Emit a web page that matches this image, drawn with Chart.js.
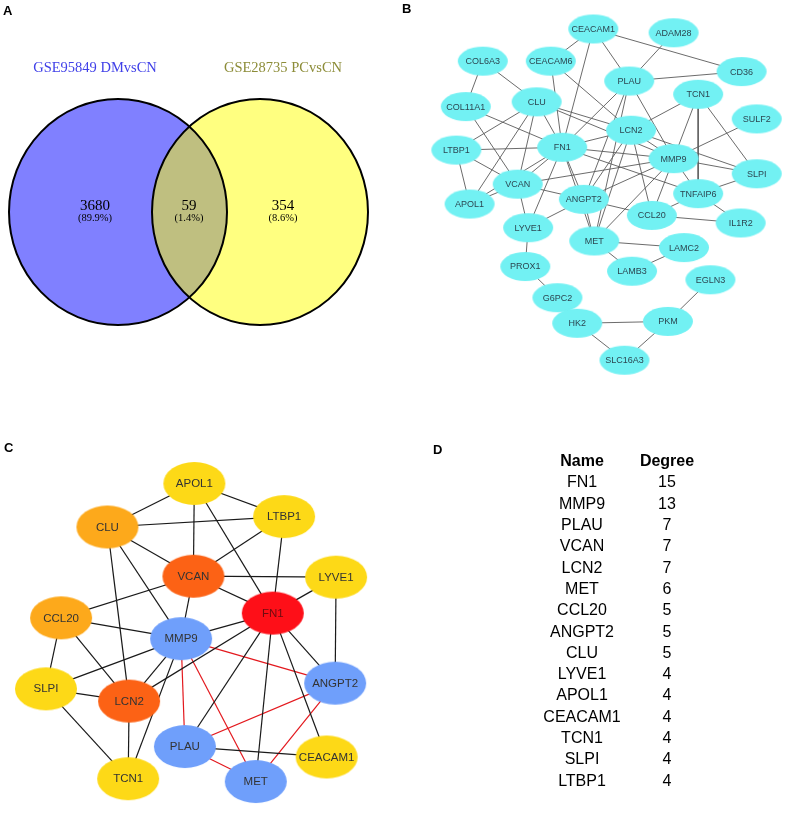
<!DOCTYPE html>
<html>
<head>
<meta charset="utf-8">
<script src="https://cdn.jsdelivr.net/npm/chart.js@4.4.1/dist/chart.umd.min.js"></script>
<style>
  body { margin: 0; background: #fff; width: 797px; height: 820px; position: relative; overflow: hidden; }
  canvas { position: absolute; }
</style>
</head>
<body>
<canvas id="venn" width="400" height="410" style="left:0;top:0"></canvas>
<canvas id="ppiFull" width="397" height="410" style="left:400px;top:0"></canvas>
<canvas id="ppiHub" width="400" height="410" style="left:0;top:410px"></canvas>
<canvas id="degreeTable" width="397" height="410" style="left:400px;top:410px"></canvas>
<script>
// ---------- data ----------
const vennSets = ["GSE95849 DMvsCN", "GSE28735 PCvsCN"];
const vennCounts = [3680, 59, 354]; // left only, shared, right only

const fullGenes = ["CEACAM1", "ADAM28", "COL6A3", "CEACAM6", "CD36", "PLAU", "TCN1", "CLU",
  "COL11A1", "SULF2", "LCN2", "LTBP1", "FN1", "MMP9", "SLPI", "VCAN", "TNFAIP6", "ANGPT2",
  "APOL1", "CCL20", "IL1R2", "LYVE1", "MET", "LAMC2", "LAMB3", "PROX1", "EGLN3", "G6PC2",
  "HK2", "PKM", "SLC16A3"];
const fullEdges = [
  ["CEACAM1", "CEACAM6"], ["CEACAM1", "FN1"], ["CEACAM1", "PLAU"], ["CEACAM1", "CD36"],
  ["ADAM28", "PLAU"], ["PLAU", "CD36"], ["COL6A3", "COL11A1"], ["COL6A3", "CLU"],
  ["CEACAM6", "FN1"], ["CEACAM6", "LCN2"], ["PLAU", "FN1"], ["PLAU", "ANGPT2"],
  ["PLAU", "MET"], ["PLAU", "MMP9"], ["TCN1", "LCN2"], ["TCN1", "MMP9"], ["TCN1", "TNFAIP6"],
  ["TCN1", "SLPI"], ["SULF2", "MMP9"], ["CLU", "FN1"], ["CLU", "LCN2"], ["CLU", "MMP9"],
  ["CLU", "LTBP1"], ["CLU", "APOL1"], ["CLU", "VCAN"], ["COL11A1", "FN1"], ["COL11A1", "VCAN"],
  ["LTBP1", "FN1"], ["LTBP1", "VCAN"], ["LTBP1", "APOL1"], ["FN1", "LCN2"], ["FN1", "MMP9"],
  ["FN1", "TNFAIP6"], ["FN1", "VCAN"], ["FN1", "APOL1"], ["FN1", "ANGPT2"], ["FN1", "LYVE1"],
  ["FN1", "MET"], ["LCN2", "MMP9"], ["LCN2", "SLPI"], ["LCN2", "CCL20"], ["LCN2", "MET"],
  ["LCN2", "ANGPT2"], ["MMP9", "SLPI"], ["MMP9", "TNFAIP6"], ["MMP9", "VCAN"],
  ["MMP9", "ANGPT2"], ["MMP9", "CCL20"], ["MMP9", "MET"], ["SLPI", "TNFAIP6"],
  ["TNFAIP6", "CCL20"], ["TNFAIP6", "IL1R2"], ["CCL20", "IL1R2"], ["ANGPT2", "CCL20"],
  ["ANGPT2", "MET"], ["ANGPT2", "LYVE1"], ["VCAN", "APOL1"], ["VCAN", "LYVE1"],
  ["VCAN", "ANGPT2"], ["LYVE1", "PROX1"], ["MET", "LAMC2"], ["MET", "LAMB3"],
  ["LAMB3", "LAMC2"], ["PROX1", "G6PC2"], ["G6PC2", "HK2"], ["HK2", "PKM"],
  ["HK2", "SLC16A3"], ["PKM", "SLC16A3"], ["PKM", "EGLN3"]
];

const hubGenes = ["APOL1", "LTBP1", "CLU", "VCAN", "LYVE1", "FN1", "CCL20", "MMP9", "SLPI",
  "ANGPT2", "LCN2", "PLAU", "CEACAM1", "TCN1", "MET"];
const hubGroups = ["low", "low", "mid", "high", "low", "top", "mid", "module", "low",
  "module", "high", "module", "low", "low", "module"];
const hubEdges = [
  ["APOL1", "CLU"], ["APOL1", "LTBP1"], ["APOL1", "VCAN"], ["APOL1", "FN1"], ["CLU", "LTBP1"],
  ["CLU", "VCAN"], ["CLU", "MMP9"], ["CLU", "LCN2"], ["LTBP1", "VCAN"], ["LTBP1", "FN1"],
  ["VCAN", "LYVE1"], ["VCAN", "FN1"], ["VCAN", "CCL20"], ["VCAN", "MMP9"], ["LYVE1", "FN1"],
  ["LYVE1", "ANGPT2"], ["FN1", "MMP9"], ["FN1", "LCN2"], ["FN1", "ANGPT2"], ["FN1", "PLAU"],
  ["FN1", "MET"], ["FN1", "CEACAM1"], ["CCL20", "MMP9"], ["CCL20", "SLPI"], ["CCL20", "LCN2"],
  ["MMP9", "SLPI"], ["MMP9", "LCN2"], ["MMP9", "TCN1"], ["SLPI", "LCN2"], ["SLPI", "TCN1"],
  ["LCN2", "TCN1"], ["PLAU", "CEACAM1"]
];
const hubModuleEdges = [
  ["MMP9", "ANGPT2"], ["MMP9", "PLAU"], ["MMP9", "MET"], ["ANGPT2", "PLAU"],
  ["ANGPT2", "MET"], ["PLAU", "MET"]
];

const tableHeader = ["Name", "Degree"];
const tableNames = ["FN1", "MMP9", "PLAU", "VCAN", "LCN2", "MET", "CCL20", "ANGPT2", "CLU",
  "LYVE1", "APOL1", "CEACAM1", "TCN1", "SLPI", "LTBP1"];
const tableDegrees = [15, 13, 7, 7, 7, 6, 5, 5, 5, 4, 4, 4, 4, 4, 4];

// ---------- layout (page pixel units) ----------
const fullX = [593, 678, 476, 548, 750, 631, 704, 533, 458, 766, 633, 448, 560, 678, 766, 513,
  704, 583, 462, 655, 749, 524, 594, 689, 634, 521, 717, 555, 576, 672, 626];
const fullY = [19, 23, 53, 53, 64, 74, 88, 96, 101, 114, 126, 147, 144, 156, 172, 183, 193, 199,
  204, 216, 224, 229, 243, 250, 275, 270, 284, 303, 330, 328, 369];
const hubX = [194, 289, 102, 193, 344, 277, 53, 180, 37, 343, 125, 184, 334, 124, 259];
const hubY = [476, 511, 522, 574, 575, 613, 618, 640, 693, 687, 706, 754, 765, 788, 791];
const vennShapes = [
  { cx: 118, cy: 212, rx: 109, ry: 113, fill: "#8080ff" },
  { cx: 260, cy: 212, rx: 108, ry: 113, fill: "#ffff80" }
];
const vennOverlapFill = "#bfbf80";
const vennLabelX = [95, 283];
const vennRegionX = [95, 189, 283];

const groupColors = {
  top: "#fe0f18", high: "#fc6215", mid: "#fda91b", low: "#fdd917", module: "#6f9ffb"
};
const fontSans = '"Liberation Sans", Arial, sans-serif';
const fontSerif = '"Liberation Serif", "Times New Roman", serif';

const baseOptions = (xMin, xMax, yMin, yMax) => ({
  responsive: false,
  animation: false,
  events: [],
  layout: { padding: 0 },
  plugins: { legend: { display: false }, tooltip: { enabled: false } },
  scales: {
    x: { type: "linear", display: false, min: xMin, max: xMax },
    y: { type: "linear", display: false, min: yMin, max: yMax, reverse: true }
  }
});

// letter position is in canvas pixels
function panelLetter(letter, x, y) {
  return {
    id: "letter" + letter,
    afterDraw(chart) {
      const ctx = chart.ctx;
      ctx.save();
      ctx.font = "bold 13px " + fontSans;
      ctx.fillStyle = "#000";
      ctx.textBaseline = "top";
      ctx.fillText(letter, x, y);
      ctx.restore();
    }
  };
}

function ellipseImage(rx, ry, fill) {
  const c = document.createElement("canvas");
  c.width = Math.ceil(rx * 2) + 2;
  c.height = Math.ceil(ry * 2) + 2;
  const g = c.getContext("2d");
  g.fillStyle = fill;
  g.beginPath();
  g.ellipse(c.width / 2, c.height / 2, rx, ry, 0, 0, Math.PI * 2);
  g.fill();
  return c;
}

// ---------- A: Venn ----------
const vennTotal = vennCounts.reduce((a, b) => a + b, 0);
const vennPlugin = {
  id: "vennCircles",
  beforeDatasetsDraw(chart) {
    const { ctx, scales: { x, y } } = chart;
    const path = s => {
      const cx = x.getPixelForValue(s.cx), cy = y.getPixelForValue(s.cy);
      const rx = x.getPixelForValue(s.cx + s.rx) - cx;
      const ry = Math.abs(y.getPixelForValue(s.cy + s.ry) - cy);
      ctx.beginPath();
      ctx.ellipse(cx, cy, rx, ry, 0, 0, Math.PI * 2);
    };
    ctx.save();
    vennShapes.forEach(s => { path(s); ctx.fillStyle = s.fill; ctx.fill(); });
    ctx.save();
    path(vennShapes[0]);
    ctx.clip();
    path(vennShapes[1]);
    ctx.fillStyle = vennOverlapFill;
    ctx.fill();
    ctx.restore();
    ctx.lineWidth = 2;
    ctx.strokeStyle = "#000";
    vennShapes.forEach(s => { path(s); ctx.stroke(); });
    ctx.restore();
  },
  afterDatasetsDraw(chart) {
    const ctx = chart.ctx;
    ctx.save();
    ctx.textAlign = "center";
    ctx.textBaseline = "middle";
    const titles = chart.getDatasetMeta(0).data;
    const titleColors = ["#4040e8", "#8c8c38"];
    ctx.font = "14.5px " + fontSerif;
    titles.forEach((pt, i) => { ctx.fillStyle = titleColors[i]; ctx.fillText(vennSets[i], pt.x, pt.y); });
    const regions = chart.getDatasetMeta(1).data;
    ctx.fillStyle = "#000";
    regions.forEach((pt, i) => {
      ctx.font = "15px " + fontSerif;
      ctx.fillText(String(vennCounts[i]), pt.x, pt.y);
      ctx.font = "10.5px " + fontSerif;
      ctx.fillText("(" + (vennCounts[i] / vennTotal * 100).toFixed(1) + "%)", pt.x, pt.y + 12);
    });
    ctx.restore();
  }
};
new Chart(document.getElementById("venn"), {
  type: "scatter",
  data: {
    datasets: [
      { data: vennSets.map((s, i) => ({ x: vennLabelX[i], y: 68 })), pointRadius: 0 },
      { data: vennCounts.map((v, i) => ({ x: vennRegionX[i], y: 206 })), pointRadius: 0 }
    ]
  },
  options: baseOptions(0, 400, 0, 410),
  plugins: [vennPlugin, panelLetter("A", 3, 5)]
});

// ---------- networks ----------
function networkChart(canvasId, genes, xs, ys, edgeGroups, nodeImages, labelFont, labelColors, bounds, letter) {
  const at = name => ({ x: xs[genes.indexOf(name)], y: ys[genes.indexOf(name)] });
  const datasets = [{
    data: genes.map((g, i) => ({ x: xs[i], y: ys[i] })),
    pointStyle: nodeImages,
    pointRadius: 10,
    order: 0
  }];
  edgeGroups.forEach(grp => grp.edges.forEach(([a, b]) => datasets.push({
    data: [at(a), at(b)],
    showLine: true,
    pointRadius: 0,
    borderColor: grp.color,
    borderWidth: grp.width,
    order: 1
  })));
  const labels = {
    id: "nodeLabels",
    afterDatasetsDraw(chart) {
      const ctx = chart.ctx;
      ctx.save();
      ctx.font = labelFont;
      ctx.textAlign = "center";
      ctx.textBaseline = "middle";
      chart.getDatasetMeta(0).data.forEach((pt, i) => {
        ctx.fillStyle = labelColors[i];
        ctx.fillText(genes[i], pt.x, pt.y + 0.5);
      });
      ctx.restore();
    }
  };
  return new Chart(document.getElementById(canvasId), {
    type: "scatter",
    data: { datasets },
    options: baseOptions(...bounds),
    plugins: [labels, letter]
  });
}

// B: full PPI network
const cyanNode = ellipseImage(25, 14.5, "#72f1f3");
networkChart("ppiFull", fullGenes, fullX, fullY,
  [{ edges: fullEdges, color: "#5a5a5a", width: 0.9 }],
  fullGenes.map(() => cyanNode),
  "9px " + fontSans,
  fullGenes.map(() => "#2c4752"),
  [400, 797, 0, 410],
  panelLetter("B", 2, 3));

// C: hub gene network
const hubImages = hubGroups.map(g => ellipseImage(31, 21.5, groupColors[g]));
networkChart("ppiHub", hubGenes, hubX, hubY,
  [{ edges: hubEdges, color: "#1a1a1a", width: 1.2 },
   { edges: hubModuleEdges, color: "#e3191e", width: 1.2 }],
  hubImages,
  "11.5px " + fontSans,
  hubGroups.map(g => g === "top" ? "#6e0c10" : "#333333"),
  [0, 400, 410, 820],
  panelLetter("C", 4, 32));

// ---------- D: degree table ----------
const rowTop = 483 - 410;
const rowGap = 21.3;
const colX = [582, 667];
const tablePlugin = {
  id: "tableText",
  afterDatasetsDraw(chart) {
    const ctx = chart.ctx;
    ctx.save();
    ctx.textAlign = "center";
    ctx.textBaseline = "middle";
    ctx.fillStyle = "#000";
    const cols = [chart.getDatasetMeta(0).data, chart.getDatasetMeta(1).data];
    const texts = [tableNames, tableDegrees];
    cols.forEach((pts, c) => pts.forEach((pt, i) => {
      if (i === 0) {
        ctx.font = "bold 16px " + fontSans;
        ctx.fillText(tableHeader[c], pt.x, pt.y);
      } else {
        ctx.font = "16px " + fontSans;
        ctx.fillText(String(texts[c][i - 1]), pt.x, pt.y);
      }
    }));
    ctx.restore();
  }
};
new Chart(document.getElementById("degreeTable"), {
  type: "scatter",
  data: {
    datasets: [
      { data: [{ x: colX[0], y: -1 }].concat(tableNames.map((n, i) => ({ x: colX[0], y: i }))), pointRadius: 0 },
      { data: [{ x: colX[1], y: -1 }].concat(tableDegrees.map((d, i) => ({ x: colX[1], y: i }))), pointRadius: 0 }
    ]
  },
  options: baseOptions(400, 797, -rowTop / rowGap, (410 - rowTop) / rowGap),
  plugins: [tablePlugin, panelLetter("D", 33, 34)]
});
</script>
</body>
</html>
